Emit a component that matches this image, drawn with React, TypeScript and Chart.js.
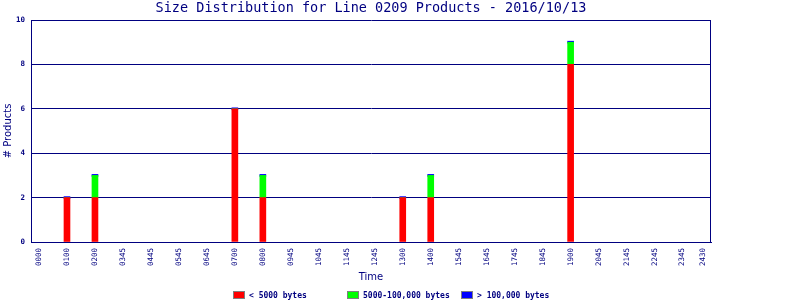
import React, { useEffect, useRef } from 'react';
import { Chart, registerables } from 'chart.js';

Chart.register(...registerables);

const TITLE = 'Size Distribution for Line 0209 Products - 2016/10/13';
const X_TITLE = 'Time';
const Y_TITLE = '# Products';

// tick positions (in hours) and their labels
const tickHours = [0, 1, 2, 3, 4, 5, 6, 7, 8, 9, 10, 11, 12, 13, 14, 15, 16, 17, 18, 19, 20, 21, 22, 23, 23.75];
const tickLabels = [
  '0000', '0100', '0200', '0345', '0445', '0545', '0645', '0700', '0800', '0945',
  '1045', '1145', '1245', '1300', '1400', '1545', '1645', '1745', '1845', '1900',
  '2045', '2145', '2245', '2345', '2430',
];

// bars
const barHours = [1, 2, 7, 8, 13, 14, 19];
const smallCounts = [2, 2, 6, 2, 2, 2, 8];
const mediumCounts = [0, 1, 0, 1, 0, 1, 1];
const largeCounts = [0, 0, 0, 0, 0, 0, 0];

const seriesNames = ['< 5000 bytes', '5000-100,000 bytes', '> 100,000 bytes'];
const seriesColors = ['#ff0000', '#00ff00', '#0000ff'];

const NAVY = '#000080';
const MONO = '"DejaVu Sans Mono", monospace';
const SANS = '"DejaVu Sans", sans-serif';

const decorPlugin = {
  id: 'decor',
  afterDraw(chart: any) {
    const { ctx, chartArea } = chart;
    ctx.save();
    // right frame edge
    ctx.strokeStyle = NAVY;
    ctx.lineWidth = 1;
    ctx.beginPath();
    const rx = Math.round(chartArea.right) - 0.5;
    ctx.moveTo(rx, Math.round(chartArea.top));
    ctx.lineTo(rx, Math.round(chartArea.bottom) + 1);
    ctx.stroke();

    // title
    ctx.fillStyle = NAVY;
    ctx.font = `13.5px ${MONO}`;
    ctx.textAlign = 'center';
    ctx.textBaseline = 'middle';
    ctx.fillText(TITLE, (chartArea.left + chartArea.right) / 2, 8.5);

    // legend
    ctx.font = `bold 8px ${MONO}`;
    ctx.textAlign = 'left';
    for (let i = 0; i < seriesNames.length; i++) {
      const bx = 233 + i * 114;
      ctx.fillStyle = seriesColors[i];
      ctx.fillRect(bx, 291, 12, 8);
      ctx.strokeStyle = '#808080';
      ctx.strokeRect(bx + 0.5, 291.5, 11, 7);
      ctx.fillStyle = NAVY;
      ctx.fillText(seriesNames[i], bx + 16, 295.5);
    }
    ctx.restore();
  },
};

export default function App() {
  const ref = useRef<HTMLCanvasElement | null>(null);

  useEffect(() => {
    if (!ref.current) return;
    const mk = (vals: number[]) => barHours.map((h, i) => ({ x: h, y: vals[i] }));
    const chart = new Chart(ref.current, {
      type: 'bar',
      data: {
        datasets: [
          { label: seriesNames[0], data: mk(smallCounts), backgroundColor: seriesColors[0], barThickness: 6, borderWidth: 0 },
          { label: seriesNames[1], data: mk(mediumCounts), backgroundColor: seriesColors[1], barThickness: 6, borderWidth: 0 },
          { label: seriesNames[2], data: mk(largeCounts), backgroundColor: seriesColors[2], barThickness: 6, borderWidth: 0, minBarLength: 2 },
        ],
      },
      options: {
        animation: false,
        responsive: false,
        maintainAspectRatio: false,
        layout: { padding: { left: 2, top: 20, right: 89, bottom: 17 } },
        plugins: {
          legend: { display: false },
          title: { display: false },
          tooltip: { enabled: false },
        },
        scales: {
          x: {
            type: 'linear',
            stacked: true,
            offset: false,
            min: -0.286,
            max: 24.017,
            afterBuildTicks: (s: any) => {
              s.ticks = tickHours.map((v) => ({ value: v }));
            },
            afterFit: (s: any) => {
              s.height = 41;
            },
            grid: { display: false, drawTicks: false },
            border: { display: true, color: NAVY, width: 1 },
            ticks: {
              autoSkip: false,
              minRotation: 90,
              maxRotation: 90,
              padding: 6,
              color: NAVY,
              font: { family: MONO, size: 7.5 },
              callback: (_v: any, i: number) => tickLabels[i],
            },
            title: {
              display: true,
              text: X_TITLE,
              color: NAVY,
              padding: 0,
              font: { family: SANS, size: 10 },
            },
          },
          y: {
            stacked: true,
            min: 0,
            max: 10,
            afterFit: (s: any) => {
              s.width = 29;
            },
            grid: { display: true, color: NAVY, lineWidth: 1, drawTicks: false },
            border: { display: true, color: NAVY, width: 1 },
            ticks: {
              stepSize: 2,
              padding: 6,
              color: NAVY,
              font: { family: MONO, size: 7.5, weight: 'bold' },
            },
            title: {
              display: true,
              text: Y_TITLE,
              color: NAVY,
              padding: 0,
              font: { family: SANS, size: 10 },
            },
          },
        },
      },
      plugins: [decorPlugin],
    } as any);
    return () => chart.destroy();
  }, []);

  return (
    <div style={{ position: 'absolute', left: 0, top: 0, width: 800, height: 300, background: '#fff' }}>
      <canvas ref={ref} width={800} height={300} style={{ display: 'block' }} />
    </div>
  );
}
